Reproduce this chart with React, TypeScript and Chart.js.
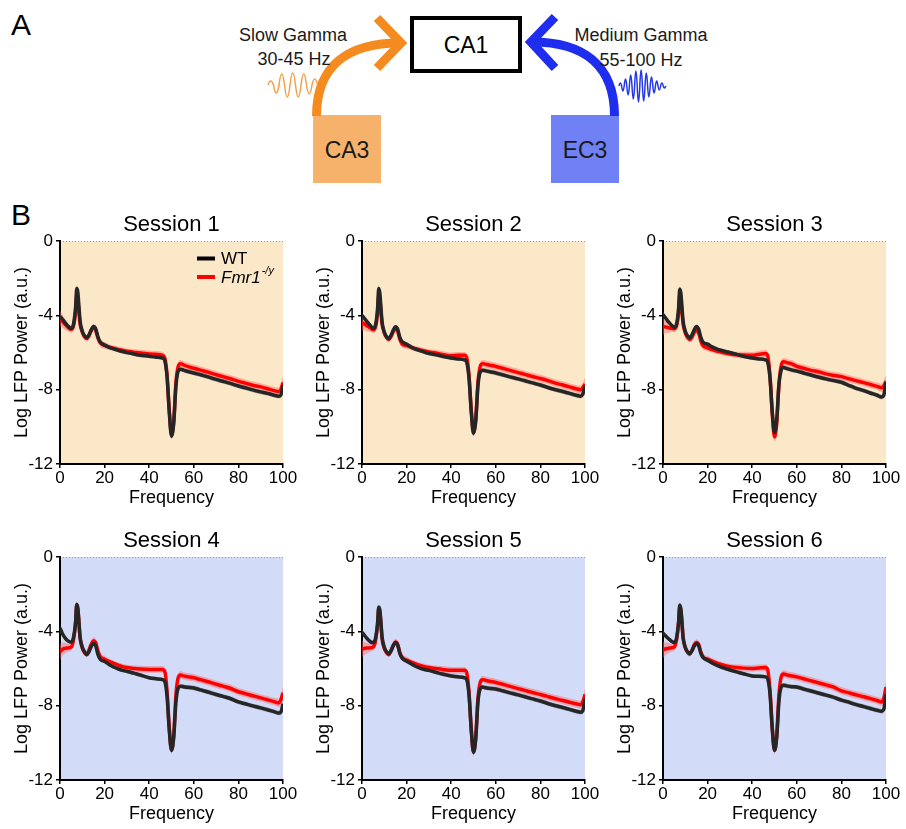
import React, { useEffect, useRef } from "react";
import { Chart, registerables } from "chart.js";

Chart.register(...registerables);

const FONT = "'Liberation Sans', Arial, Helvetica, sans-serif";
Chart.defaults.font.family = FONT;
Chart.defaults.color = "#000";

// Frequency grid (Hz)
const FREQ = [
  0, 1, 2, 3, 4, 5, 6, 7,
  7.5, 8, 8.5, 9,
  10, 11, 12, 13, 14, 15, 16, 17, 18,
  20, 22, 24, 26, 28, 30,
  33, 36, 40, 43, 46,
  47, 48, 49, 50, 51, 52, 53, 54, 55, 56,
  58, 60, 63, 66, 70, 73, 76, 80,
  83, 86, 90, 93, 96, 98, 99, 100,
];

const X_TICKS = [0, 20, 40, 60, 80, 100];
const Y_TICKS = [0, -4, -8, -12];

// Session 1
const S1_WT = [
  -4.05, -4.2, -4.35, -4.5, -4.62, -4.7, -4.5, -3.55,
  -2.55, -2.75, -3.55, -4.3,
  -4.85, -5.1, -5.2, -5.05, -4.78, -4.6, -4.72, -5.15, -5.42,
  -5.6, -5.72, -5.8, -5.88, -5.95, -6.0,
  -6.08, -6.15, -6.2, -6.25, -6.3,
  -6.45, -7.3, -9.2, -10.5, -9.8, -7.8, -7.0, -6.9, -6.93, -6.98,
  -7.04, -7.1, -7.2, -7.3, -7.45, -7.55, -7.65, -7.8,
  -7.9, -8.0, -8.12, -8.2, -8.3, -8.35, -8.3, -7.75,
];
const S1_KO = [
  -4.15, -4.3, -4.45, -4.57, -4.7, -4.75, -4.6, -3.8,
  -2.95, -3.1, -3.8, -4.45,
  -4.9, -5.15, -5.25, -5.1, -4.82, -4.65, -4.8, -5.22, -5.48,
  -5.62, -5.7, -5.77, -5.83, -5.88, -5.93,
  -5.98, -6.03, -6.08, -6.1, -6.15,
  -6.3, -7.2, -9.1, -10.4, -9.7, -7.6, -6.75, -6.6, -6.64, -6.7,
  -6.78, -6.85, -6.95, -7.05, -7.2, -7.3, -7.4, -7.55,
  -7.65, -7.75, -7.85, -7.95, -8.05, -8.1, -8.02, -7.62,
];

// Session 2
const S2_WT = [
  -4.0, -4.15, -4.3, -4.45, -4.58, -4.7, -4.55, -3.6,
  -2.55, -2.8, -3.6, -4.35,
  -4.9, -5.15, -5.25, -5.08, -4.8, -4.62, -4.75, -5.2, -5.42,
  -5.55, -5.7, -5.82, -5.9, -5.98, -6.05,
  -6.12, -6.2, -6.3, -6.35, -6.4,
  -6.55, -7.4, -9.2, -10.35, -9.7, -7.8, -7.05, -6.95, -6.97, -7.0,
  -7.05, -7.1, -7.2, -7.3, -7.42, -7.52, -7.62, -7.75,
  -7.87, -7.98, -8.1, -8.2, -8.3, -8.35, -8.25, -7.8,
];
const S2_KO = [
  -4.4, -4.45, -4.55, -4.62, -4.7, -4.78, -4.65, -3.85,
  -2.9, -3.1, -3.8, -4.45,
  -4.95, -5.2, -5.3, -5.15, -4.88, -4.7, -4.85, -5.3, -5.55,
  -5.62, -5.72, -5.8, -5.86, -5.92, -5.97,
  -6.03, -6.1, -6.18, -6.15, -6.15,
  -6.3, -7.25, -9.1, -10.3, -9.6, -7.6, -6.75, -6.6, -6.62, -6.65,
  -6.7, -6.75, -6.85, -6.95, -7.08, -7.18, -7.28, -7.4,
  -7.5, -7.62, -7.75, -7.85, -7.95, -8.0, -7.9, -7.7,
];

// Session 3
const S3_WT = [
  -3.95, -4.12, -4.28, -4.42, -4.55, -4.65, -4.5, -3.6,
  -2.6, -2.8, -3.55, -4.3,
  -4.85, -5.1, -5.2, -5.05, -4.78, -4.6, -4.75, -5.2, -5.45,
  -5.55, -5.7, -5.8, -5.88, -5.95, -6.0,
  -6.1, -6.2, -6.3, -6.35, -6.4,
  -6.55, -7.4, -9.2, -10.3, -9.6, -7.7, -6.95, -6.8, -6.84, -6.88,
  -6.95, -7.0, -7.1, -7.2, -7.33, -7.42, -7.5, -7.6,
  -7.75, -7.9, -8.05, -8.18, -8.3, -8.4, -8.3, -7.6,
];
const S3_KO = [
  -4.6, -4.62, -4.65, -4.68, -4.7, -4.72, -4.6, -3.85,
  -2.9, -3.1, -3.8, -4.45,
  -4.95, -5.2, -5.3, -5.18, -4.92, -4.8, -4.95, -5.4, -5.65,
  -5.75, -5.85, -5.92, -5.98, -6.03, -6.08,
  -6.12, -6.14, -6.15, -6.1, -6.05,
  -6.2, -7.3, -9.3, -10.55, -9.8, -7.7, -6.7, -6.5, -6.52, -6.56,
  -6.62, -6.75, -6.85, -6.95, -7.05, -7.15, -7.22, -7.3,
  -7.4, -7.5, -7.62, -7.72, -7.82, -7.9, -7.8, -7.55,
];

// Session 4
const S4_WT = [
  -3.82, -4.1, -4.3, -4.45, -4.55, -4.58, -4.35, -3.5,
  -2.55, -2.75, -3.5, -4.3,
  -4.85, -5.1, -5.25, -5.1, -4.82, -4.65, -4.78, -5.25, -5.5,
  -5.62, -5.78, -5.92, -6.02, -6.1, -6.15,
  -6.25, -6.35, -6.5, -6.55, -6.6,
  -6.7, -7.5, -9.3, -10.4, -9.7, -7.8, -7.05, -6.95, -6.97, -7.0,
  -7.02, -7.05, -7.15, -7.25, -7.4, -7.5, -7.6, -7.8,
  -7.9, -8.0, -8.12, -8.22, -8.32, -8.4, -8.35, -7.9,
];
const S4_KO = [
  -5.1, -4.98, -4.92, -4.9, -4.88, -4.85, -4.5, -3.55,
  -2.6, -2.8, -3.55, -4.35,
  -4.9, -5.15, -5.25, -5.0, -4.7, -4.5, -4.6, -5.05, -5.35,
  -5.5, -5.62, -5.72, -5.82, -5.9, -5.95,
  -6.0, -6.03, -6.05, -6.05, -6.05,
  -6.15, -7.2, -9.2, -10.4, -9.6, -7.4, -6.5, -6.35, -6.38, -6.42,
  -6.46, -6.5, -6.6, -6.7, -6.85, -6.95, -7.05, -7.25,
  -7.35, -7.45, -7.58, -7.68, -7.78, -7.85, -7.7, -7.3,
];

// Session 5
const S5_WT = [
  -4.05, -4.2, -4.35, -4.48, -4.58, -4.6, -4.4, -3.55,
  -2.7, -2.85, -3.55, -4.3,
  -4.85, -5.1, -5.2, -5.05, -4.78, -4.6, -4.75, -5.2, -5.45,
  -5.6, -5.75, -5.88, -5.98, -6.05, -6.1,
  -6.2, -6.3, -6.4, -6.45, -6.5,
  -6.62, -7.45, -9.3, -10.5, -9.8, -7.8, -7.1, -7.0, -7.02, -7.05,
  -7.08, -7.1, -7.2, -7.3, -7.42, -7.52, -7.62, -7.75,
  -7.87, -7.98, -8.1, -8.2, -8.3, -8.35, -8.28, -7.6,
];
const S5_KO = [
  -4.95, -4.92, -4.9, -4.9, -4.88, -4.85, -4.55, -3.6,
  -2.8, -2.95, -3.6, -4.4,
  -4.92, -5.15, -5.25, -5.05, -4.75, -4.58, -4.7, -5.15, -5.4,
  -5.55, -5.65, -5.75, -5.83, -5.9, -5.95,
  -6.0, -6.05, -6.1, -6.1, -6.1,
  -6.25, -7.3, -9.3, -10.5, -9.7, -7.6, -6.75, -6.6, -6.62, -6.66,
  -6.7, -6.75, -6.85, -6.95, -7.08, -7.18, -7.28, -7.4,
  -7.5, -7.6, -7.72, -7.82, -7.9, -7.95, -7.8, -7.4,
];

// Session 6
const S6_WT = [
  -4.1, -4.22, -4.35, -4.45, -4.55, -4.6, -4.4, -3.5,
  -2.6, -2.8, -3.5, -4.3,
  -4.85, -5.1, -5.2, -5.05, -4.8, -4.65, -4.78, -5.2, -5.42,
  -5.55, -5.7, -5.82, -5.92, -6.0, -6.08,
  -6.18, -6.28, -6.4, -6.42, -6.45,
  -6.58, -7.4, -9.25, -10.4, -9.7, -7.75, -7.0, -6.9, -6.92, -6.95,
  -6.98, -7.0, -7.1, -7.2, -7.33, -7.43, -7.53, -7.7,
  -7.8, -7.92, -8.05, -8.15, -8.25, -8.3, -8.2, -7.4,
];
const S6_KO = [
  -5.0, -4.95, -4.92, -4.9, -4.88, -4.85, -4.5, -3.5,
  -2.7, -2.85, -3.5, -4.35,
  -4.9, -5.12, -5.22, -5.02, -4.72, -4.6, -4.7, -5.12, -5.38,
  -5.5, -5.6, -5.7, -5.78, -5.85, -5.9,
  -5.95, -5.98, -6.0, -5.97, -5.95,
  -6.1, -7.2, -9.2, -10.4, -9.6, -7.4, -6.45, -6.3, -6.32, -6.36,
  -6.4, -6.45, -6.55, -6.65, -6.78, -6.88, -6.98, -7.2,
  -7.3, -7.4, -7.52, -7.62, -7.72, -7.8, -7.6, -7.0,
];

// Standard error bands
const SEM_WT = [
  0.15, 0.12, 0.1, 0.1, 0.1, 0.1, 0.1, 0.15,
  0.15, 0.15, 0.12, 0.1,
  0.1, 0.1, 0.1, 0.1, 0.1, 0.1, 0.1, 0.1, 0.1,
  0.1, 0.1, 0.1, 0.1, 0.1, 0.1,
  0.1, 0.1, 0.1, 0.1, 0.1,
  0.12, 0.15, 0.15, 0.15, 0.15, 0.15, 0.12, 0.12, 0.12, 0.12,
  0.12, 0.12, 0.12, 0.12, 0.12, 0.12, 0.12, 0.12,
  0.12, 0.12, 0.12, 0.12, 0.12, 0.12, 0.15, 0.2,
];
const SEM_KO = [
  0.45, 0.35, 0.3, 0.25, 0.2, 0.18, 0.18, 0.2,
  0.2, 0.2, 0.18, 0.18,
  0.18, 0.15, 0.15, 0.18, 0.18, 0.18, 0.18, 0.18, 0.18,
  0.18, 0.15, 0.15, 0.15, 0.15, 0.15,
  0.16, 0.18, 0.18, 0.18, 0.18,
  0.18, 0.22, 0.22, 0.22, 0.22, 0.22, 0.2, 0.2, 0.2, 0.2,
  0.2, 0.2, 0.2, 0.2, 0.2, 0.2, 0.2, 0.2,
  0.2, 0.2, 0.2, 0.2, 0.2, 0.22, 0.28, 0.35,
];

const TITLES = ["Session 1", "Session 2", "Session 3", "Session 4", "Session 5", "Session 6"];
const WT_SERIES = [S1_WT, S2_WT, S3_WT, S4_WT, S5_WT, S6_WT];
const KO_SERIES = [S1_KO, S2_KO, S3_KO, S4_KO, S5_KO, S6_KO];

const BG_SLOW = "#FBE8C9";
const BG_MED = "#D2DCF8";
const COL_LEFT = [60, 362, 663];
const ROW_TOP = [241, 557];
const PLOT_W = 223;
const PLOT_H = 223;
const PAD_L = 60;
const PAD_T = 35;
const PAD_R = 20;
const PAD_B = 45;

type PanelProps = {
  title: string;
  wt: number[];
  ko: number[];
  bg: string;
  left: number;
  top: number;
  legend: boolean;
};

function Panel({ title, wt, ko, bg, left, top, legend }: PanelProps) {
  const ref = useRef<HTMLCanvasElement | null>(null);

  useEffect(() => {
    if (!ref.current) return;
    const pts = (arr: number[], sem?: number[], sign = 0) =>
      FREQ.map((f, i) => ({ x: f, y: arr[i] + (sem ? sign * sem[i] : 0) }));

    const deco = {
      id: "panelDeco",
      beforeDraw(chart: any) {
        const { ctx, chartArea } = chart;
        const { left: l, top: t, right: r, bottom: b } = chartArea;
        ctx.save();
        ctx.fillStyle = bg;
        ctx.fillRect(l, t, r - l, b - t);
        ctx.setLineDash([1, 2]);
        ctx.strokeStyle = "#9a9a9a";
        ctx.lineWidth = 1;
        ctx.beginPath();
        ctx.moveTo(l, t + 0.5);
        ctx.lineTo(r, t + 0.5);
        ctx.stroke();
        ctx.restore();
      },
      afterDraw(chart: any) {
        if (!legend) return;
        const { ctx, chartArea } = chart;
        const l = chartArea.left;
        const t = chartArea.top;
        ctx.save();
        ctx.lineWidth = 4;
        ctx.strokeStyle = "#000";
        ctx.beginPath();
        ctx.moveTo(l + 137, t + 17.5);
        ctx.lineTo(l + 155, t + 17.5);
        ctx.stroke();
        ctx.strokeStyle = "#ff0000";
        ctx.beginPath();
        ctx.moveTo(l + 137, t + 36);
        ctx.lineTo(l + 155, t + 36);
        ctx.stroke();
        ctx.fillStyle = "#000";
        ctx.textBaseline = "middle";
        ctx.textAlign = "left";
        ctx.font = `17px ${FONT}`;
        ctx.fillText("WT", l + 161, t + 18);
        ctx.font = `italic 17px ${FONT}`;
        ctx.fillText("Fmr1", l + 161, t + 37);
        const w = ctx.measureText("Fmr1").width;
        ctx.font = `italic 11px ${FONT}`;
        ctx.fillText("-/y", l + 161 + w + 1, t + 30);
        ctx.restore();
      },
    };

    const line = { pointRadius: 0, borderWidth: 3.5, fill: false, cubicInterpolationMode: "monotone" as const };
    const band = { pointRadius: 0, borderWidth: 0, cubicInterpolationMode: "monotone" as const };

    const chart = new Chart(ref.current, {
      type: "line",
      data: {
        datasets: [
          { label: "WT", data: pts(wt), borderColor: "#262626", ...line },
          { label: "Fmr1-/y", data: pts(ko), borderColor: "#ff0000", ...line },
          { label: "WT+", data: pts(wt, SEM_WT, 1), backgroundColor: "rgba(90,90,90,0.45)", fill: "+1", ...band },
          { label: "WT-", data: pts(wt, SEM_WT, -1), fill: false, ...band },
          { label: "KO+", data: pts(ko, SEM_KO, 1), backgroundColor: "rgba(255,100,100,0.45)", fill: "+1", ...band },
          { label: "KO-", data: pts(ko, SEM_KO, -1), fill: false, ...band },
        ] as any,
      },
      options: {
        responsive: false,
        animation: false,
        devicePixelRatio: 1,
        events: [],
        layout: { padding: { left: 0, right: PAD_R, top: PAD_T - 29.4, bottom: 0 } },
        plugins: {
          legend: { display: false },
          tooltip: { enabled: false },
          title: {
            display: true,
            text: title,
            fullSize: false,
            color: "#000",
            font: { size: 22, weight: "normal", family: FONT },
            padding: { top: 0, bottom: 3 },
          },
        },
        scales: {
          x: {
            type: "linear",
            min: 0,
            max: 100,
            afterBuildTicks: (s: any) => {
              s.ticks = X_TICKS.map((v) => ({ value: v }));
            },
            ticks: { color: "#000", font: { size: 17 }, padding: 0, maxRotation: 0, autoSkip: false },
            grid: { display: true, drawOnChartArea: false, drawTicks: true, tickLength: 4, color: "#000", lineWidth: 1.5 },
            border: { display: true, color: "#000", width: 2 },
            title: { display: true, text: "Frequency", color: "#000", font: { size: 18 }, padding: { top: 0, bottom: 0 } },
            afterFit: (s: any) => {
              s.height = PAD_B;
            },
          },
          y: {
            min: -12,
            max: 0,
            afterBuildTicks: (s: any) => {
              s.ticks = Y_TICKS.map((v) => ({ value: v }));
            },
            ticks: { color: "#000", font: { size: 17 }, padding: 3, autoSkip: false },
            grid: { display: true, drawOnChartArea: false, drawTicks: true, tickLength: 4, color: "#000", lineWidth: 1.5 },
            border: { display: true, color: "#000", width: 2 },
            title: {
              display: true,
              text: "Log LFP Power (a.u.)",
              color: "#000",
              font: { size: 18 },
              padding: { top: 11.2, bottom: 0 },
            },
            afterFit: (s: any) => {
              s.width = PAD_L;
            },
          },
        },
      } as any,
      plugins: [deco],
    });
    return () => chart.destroy();
  }, [title, wt, ko, bg, legend]);

  const cw = PAD_L + PLOT_W + PAD_R;
  const ch = PAD_T + PLOT_H + PAD_B;
  return (
    <canvas
      ref={ref}
      width={cw}
      height={ch}
      style={{ position: "absolute", left: left - PAD_L, top: top - PAD_T, width: cw, height: ch }}
    />
  );
}

function Diagram() {
  const txt = { fontFamily: FONT, fill: "#1a1a1a" } as const;
  return (
    <svg width={906} height={829} style={{ position: "absolute", left: 0, top: 0 }}>
      <text x={11} y={35} fontSize={30} {...txt} fill="#000">A</text>
      <text x={11} y={225} fontSize={30} {...txt} fill="#000">B</text>

      {/* CA1 */}
      <rect x={412} y={18} width={108} height={53} fill="#fff" stroke="#000" strokeWidth={4} />
      <text x={466} y={53} fontSize={23} textAnchor="middle" {...txt} fill="#000">CA1</text>

      {/* CA3 */}
      <rect x={313} y={115} width={68} height={68} fill="#F6B26B" />
      <text x={347} y={158} fontSize={23} textAnchor="middle" {...txt}>CA3</text>

      {/* EC3 */}
      <rect x={551} y={115} width={68} height={68} fill="#7080F5" />
      <text x={585} y={158} fontSize={23} textAnchor="middle" {...txt}>EC3</text>

      {/* Orange arrow */}
      <path d="M316.5,116 C316.5,64 350,43 400,43" stroke="#F58A1E" strokeWidth={9} fill="none" />
      <path d="M377,18 L401,43 L377,68" stroke="#F58A1E" strokeWidth={9} fill="none" strokeLinejoin="miter" />

      {/* Blue arrow */}
      <path d="M614.5,116 C614.5,64 582,42 532,42" stroke="#1F2DEE" strokeWidth={9} fill="none" />
      <path d="M555,17 L531,42 L555,68" stroke="#1F2DEE" strokeWidth={9} fill="none" strokeLinejoin="miter" />

      {/* Labels */}
      <text x={293} y={41} fontSize={18} textAnchor="middle" {...txt}>Slow Gamma</text>
      <text x={294} y={65} fontSize={18} textAnchor="middle" {...txt}>30-45 Hz</text>
      <text x={641} y={41} fontSize={18} textAnchor="middle" {...txt}>Medium Gamma</text>
      <text x={641} y={66} fontSize={18} textAnchor="middle" {...txt}>55-100 Hz</text>

      {/* Slow gamma wiggle */}
      <path
        d="M268,85 q2.75,-8 5.5,0 q2.75,16 5.5,0 q2.75,-22 5.5,0 q2.75,24 5.5,0 q2.75,-24 5.5,0 q2.75,24 5.5,0 q2.75,-22 5.5,0 q2.75,18 5.5,0 q2.75,-12 5.5,0"
        stroke="#F2A14A"
        strokeWidth={1.5}
        fill="none"
      />
      {/* Medium gamma wiggle */}
      <path
        d="M619,86 q1.3,-6 2.6,0 q1.3,10 2.6,0 q1.3,-14 2.6,0 q1.3,18 2.6,0 q1.3,-22 2.6,0 q1.3,26 2.6,0 q1.3,-30 2.6,0 q1.3,32 2.6,0 q1.3,-32 2.6,0 q1.3,30 2.6,0 q1.3,-26 2.6,0 q1.3,22 2.6,0 q1.3,-18 2.6,0 q1.3,14 2.6,0 q1.3,-10 2.6,0 q1.3,8 2.6,0 q1.3,-6 2.6,0 q1.3,4 2.6,0"
        stroke="#2438E8"
        strokeWidth={1.5}
        fill="none"
      />
    </svg>
  );
}

export default function App() {
  return (
    <div style={{ position: "absolute", left: 0, top: 0, width: 906, height: 829, background: "#fff" }}>
      <Diagram />
      {TITLES.map((t, i) => {
        const row = Math.floor(i / 3);
        const col = i % 3;
        return (
          <Panel
            key={t}
            title={t}
            wt={WT_SERIES[i]}
            ko={KO_SERIES[i]}
            bg={row === 0 ? BG_SLOW : BG_MED}
            left={COL_LEFT[col]}
            top={ROW_TOP[row]}
            legend={i === 0}
          />
        );
      })}
    </div>
  );
}
